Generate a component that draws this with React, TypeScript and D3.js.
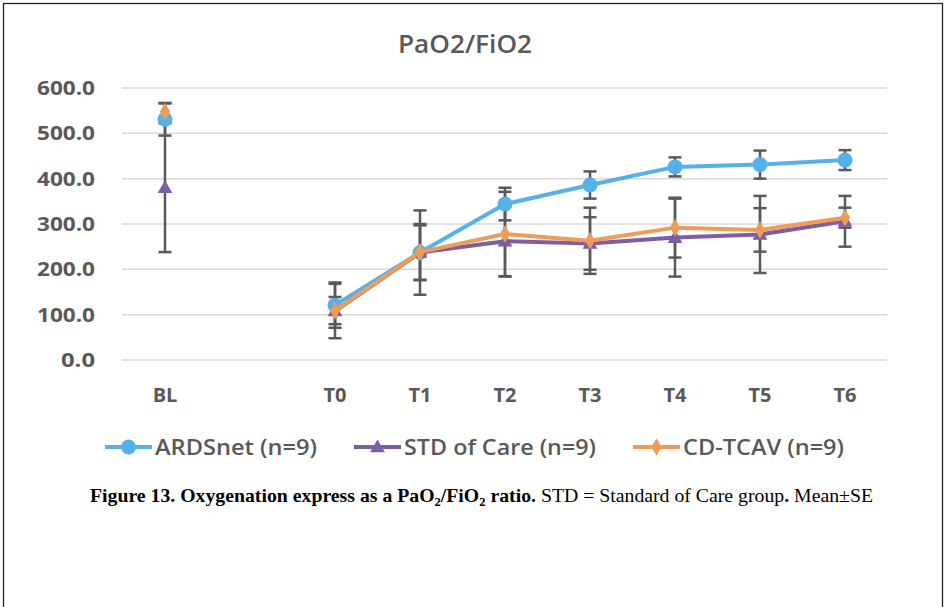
import * as d3 from 'd3';

const categories = ['BL', '', 'T0', 'T1', 'T2', 'T3', 'T4', 'T5', 'T6'];
const yTicks = [0, 100, 200, 300, 400, 500, 600];

const ardsMean = [531, null, 121, 237, 344, 386, 426, 431, 441];
const ardsSE = [36, null, 50, 60, 36, 30, 21, 31, 22];
const stdMean = [380, null, 108, 237, 262, 257, 270, 277, 306];
const stdSE = [142, null, 60, 93, 78, 58, 86, 85, 56];
const cdMean = [548, null, 109, 238, 278, 263, 292, 287, 314];
const cdSE = [18, null, 30, 62, 93, 73, 66, 48, 22];

const seriesNames = ['ARDSnet (n=9)', 'STD of Care (n=9)', 'CD-TCAV (n=9)'];
const seriesColors = ['#55b1e9', '#7b5ea6', '#ef9c58'];

const W = 950;
const H = 607;
const gray = '#595959';

export default function App() {
  const x = d3.scaleBand().domain(categories).range([122.5, 887.5]);
  const y = d3.scaleLinear().domain([0, 600]).range([360, 88]);
  const cx = (c: string) => (x(c) as number) + x.bandwidth() / 2;

  const series = [
    { name: seriesNames[0], color: seriesColors[0], mean: ardsMean, se: ardsSE, shape: 'circle' },
    { name: seriesNames[1], color: seriesColors[1], mean: stdMean, se: stdSE, shape: 'triangle' },
    { name: seriesNames[2], color: seriesColors[2], mean: cdMean, se: cdSE, shape: 'diamond' },
  ];

  const line = d3
    .line<number | null>()
    .defined((d, i) => d != null && i > 1)
    .x((d, i) => cx(categories[i]))
    .y((d) => y(d as number));

  const tri = d3.symbol().type(d3.symbolTriangle).size(95)();
  const dia = d3.symbol().type(d3.symbolDiamond).size(90)();

  const marker = (shape: string, color: string, px: number, py: number, key: string) => {
    if (shape === 'circle') return <circle key={key} cx={px} cy={py} r={7.5} fill={color} />;
    if (shape === 'triangle') return <path key={key} d={tri as string} transform={`translate(${px},${py + 1})`} fill={color} />;
    return <path key={key} d={dia as string} transform={`translate(${px},${py})`} fill={color} />;
  };

  const legendX = [105, 354, 633];
  const legendY = 447;

  return (
    <svg width={W} height={H} style={{ position: 'absolute', left: 0, top: 0, background: '#fff' }}>
      <rect x={3.5} y={3.5} width={939} height={640} fill="none" stroke="#222" strokeWidth={1.3} />

      <text x={465} y={52.5} textAnchor="middle" fontFamily="Open Sans" fontWeight={600} fontSize={26} fill={gray} textLength={134} lengthAdjust="spacingAndGlyphs">
        PaO2/FiO2
      </text>

      {/* gridlines + y labels */}
      {yTicks.map((t) => (
        <g key={t}>
          <line x1={122} x2={887} y1={y(t)} y2={y(t)} stroke="#d9d9d9" strokeWidth={1.5} />
          <text x={95} y={y(t) + 7} textAnchor="end" fontFamily="Open Sans" fontWeight={700} fontSize={20} fill={gray} textLength={t === 0 ? 34 : 58} lengthAdjust="spacingAndGlyphs">
            {t.toFixed(1)}
          </text>
        </g>
      ))}

      {/* x labels */}
      {categories.map((c) => (
        <text key={c || 'gap'} x={cx(c)} y={402} textAnchor="middle" fontFamily="Open Sans" fontWeight={700} fontSize={20} fill={gray}>
          {c}
        </text>
      ))}

      {/* error bars */}
      {series.map((s) =>
        s.mean.map((m, i) => {
          if (m == null) return null;
          const e = s.se[i] as number;
          const px = cx(categories[i]);
          return (
            <g key={s.name + i} stroke={gray} strokeWidth={2.5}>
              <line x1={px} x2={px} y1={y(m + e)} y2={y(m - e)} />
              <line x1={px - 6.5} x2={px + 6.5} y1={y(m + e)} y2={y(m + e)} />
              <line x1={px - 6.5} x2={px + 6.5} y1={y(m - e)} y2={y(m - e)} />
            </g>
          );
        })
      )}

      {/* lines + markers */}
      {series.map((s) => (
        <g key={s.name}>
          <path d={line(s.mean) as string} fill="none" stroke={s.color} strokeWidth={4} strokeLinejoin="round" />
          {s.mean.map((m, i) => (m == null ? null : marker(s.shape, s.color, cx(categories[i]), y(m), s.name + i)))}
        </g>
      ))}

      {/* legend */}
      {series.map((s, i) => (
        <g key={s.name}>
          <line x1={legendX[i]} x2={legendX[i] + 47} y1={legendY} y2={legendY} stroke={s.color} strokeWidth={4} />
          {marker(s.shape, s.color, legendX[i] + 23.5, legendY, 'lg' + i)}
          <text x={legendX[i] + 50} y={legendY + 8} fontFamily="Open Sans" fontWeight={600} fontSize={22} fill={gray} textLength={[162, 192, 161][i]} lengthAdjust="spacingAndGlyphs">
            {s.name}
          </text>
        </g>
      ))}

      {/* caption */}
      <text x={90} y={502} fontFamily="Liberation Serif" fontSize={19} fill="#000" textLength={783} lengthAdjust="spacingAndGlyphs">
        <tspan fontWeight={700}>Figure 13. Oxygenation express as a PaO</tspan>
        <tspan fontWeight={700} fontSize={12} dy={4}>2</tspan>
        <tspan fontWeight={700} dy={-4}>/FiO</tspan>
        <tspan fontWeight={700} fontSize={12} dy={4}>2</tspan>
        <tspan fontWeight={700} dy={-4}> ratio.</tspan>
        <tspan> STD = Standard of Care group</tspan>
        <tspan fontWeight={700}>.</tspan>
        <tspan> Mean±SE</tspan>
      </text>
    </svg>
  );
}
